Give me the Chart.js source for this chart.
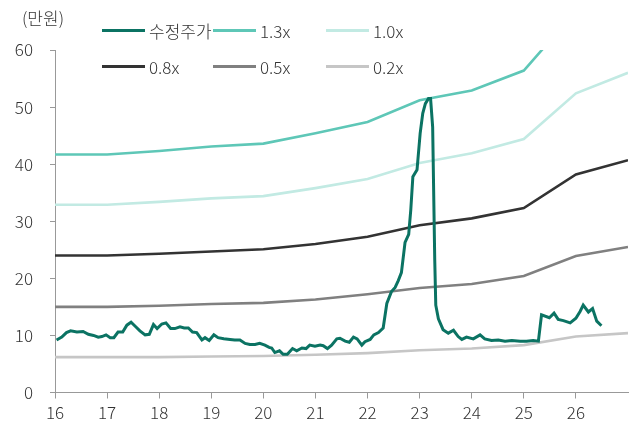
<!DOCTYPE html>
<html>
<head>
<meta charset="utf-8">
<script src="https://cdn.jsdelivr.net/npm/chart.js@4.4.1/dist/chart.umd.min.js"></script>
<style>
  html, body { margin: 0; padding: 0; background: #fff; }
</style>
</head>
<body>
<canvas id="chart" width="634" height="423"></canvas>
<script>
// Band years (x axis, 2-digit years)
const bandYears = [16, 17, 18, 19, 20, 21, 22, 23, 24, 25, 26, 27];

// PBR band lines (만원)
const band13 = [41.7, 41.7, 42.3, 43.1, 43.6, 45.4, 47.4, 51.2, 52.9, 56.4, 66.8, 71.5];
const band10 = [32.9, 32.9, 33.4, 34.0, 34.4, 35.8, 37.4, 40.2, 41.9, 44.4, 52.4, 56.0];
const band08 = [24.0, 24.0, 24.3, 24.7, 25.1, 26.0, 27.3, 29.3, 30.5, 32.3, 38.2, 40.7];
const band05 = [15.0, 15.0, 15.2, 15.5, 15.7, 16.3, 17.2, 18.3, 19.0, 20.4, 23.9, 25.5];
const band02 = [6.2, 6.2, 6.2, 6.3, 6.4, 6.6, 6.9, 7.4, 7.7, 8.3, 9.8, 10.4];

// 수정주가 (adjusted price)
const priceYears = [
  16.03, 16.13, 16.22, 16.30, 16.42, 16.54, 16.64, 16.74, 16.83, 16.90, 16.98,
  17.06, 17.13, 17.21, 17.30, 17.38, 17.46, 17.54, 17.63, 17.73, 17.81, 17.89, 17.96,
  18.05, 18.13, 18.22, 18.30, 18.40, 18.48, 18.56, 18.64, 18.72, 18.82, 18.88, 18.96,
  19.05, 19.13, 19.24, 19.36, 19.45, 19.55, 19.65, 19.74, 19.84, 19.93,
  20.03, 20.11, 20.16, 20.22, 20.31, 20.38, 20.46, 20.56, 20.64, 20.74, 20.82, 20.89, 20.99,
  21.09, 21.15, 21.23, 21.31, 21.41, 21.47, 21.57, 21.65, 21.73, 21.80, 21.89, 21.95,
  22.05, 22.12, 22.21, 22.30, 22.37, 22.46, 22.53, 22.59, 22.65, 22.72, 22.79, 22.83, 22.87, 22.95,
  23.01, 23.06, 23.11, 23.17, 23.21, 23.25, 23.29, 23.31, 23.36, 23.45, 23.55, 23.65, 23.74, 23.81, 23.90,
  24.03, 24.16, 24.25, 24.38, 24.51, 24.64, 24.77, 24.93,
  25.05, 25.18, 25.28, 25.34, 25.49, 25.58, 25.66, 25.76, 25.89,
  26.00, 26.08, 26.14, 26.24, 26.32, 26.40, 26.49
];
const priceValues = [
  9.2, 9.7, 10.5, 10.8, 10.6, 10.7, 10.2, 10.0, 9.7, 9.8, 10.1,
  9.6, 9.6, 10.6, 10.6, 11.8, 12.3, 11.6, 10.8, 10.1, 10.2, 11.9, 11.2,
  12.0, 12.2, 11.2, 11.2, 11.5, 11.3, 11.3, 10.6, 10.5, 9.2, 9.6, 9.1,
  10.1, 9.6, 9.4, 9.3, 9.2, 9.2, 8.6, 8.4, 8.4, 8.6,
  8.3, 7.9, 7.8, 7.0, 7.3, 6.7, 6.7, 7.7, 7.3, 7.8, 7.7, 8.3, 8.1,
  8.3, 8.2, 7.7, 8.3, 9.4, 9.5, 9.0, 8.8, 9.7, 9.4, 8.3, 8.9,
  9.3, 10.1, 10.5, 11.3, 15.6, 17.7, 18.4, 19.6, 21.0, 26.3, 27.7, 32.0, 37.8, 39.0,
  45.4, 48.9, 50.6, 51.5, 51.5, 46.5, 23.2, 15.3, 12.9, 11.0, 10.4, 10.9, 9.8, 9.3, 9.7,
  9.4, 10.1, 9.4, 9.1, 9.2, 9.0, 9.1, 9.0,
  9.0, 9.1, 9.0, 13.6, 13.1, 13.9, 12.8, 12.6, 12.2,
  13.0, 14.2, 15.3, 14.1, 14.7, 12.5, 11.7
];

const labels = ['수정주가', '1.3x', '1.0x', '0.8x', '0.5x', '0.2x'];
const colors = ['#0b7363', '#5ec7b7', '#c2eae3', '#333333', '#808080', '#c6c6c6'];

const FONT = "'Noto Sans CJK KR', 'Noto Sans', sans-serif";

function toPoints(xs, ys) {
  return xs.map((x, i) => ({ x: x, y: ys[i] }));
}

const seriesList = [
  toPoints(priceYears, priceValues),
  toPoints(bandYears, band13),
  toPoints(bandYears, band10),
  toPoints(bandYears, band08),
  toPoints(bandYears, band05),
  toPoints(bandYears, band02)
];

const datasets = seriesList.map((pts, i) => ({
  label: labels[i],
  data: pts,
  borderColor: colors[i],
  backgroundColor: colors[i],
  borderWidth: i === 0 ? 3 : 2.6,
  pointRadius: 0,
  tension: 0,
  fill: false
}));

// legend laid out on a fixed grid + unit label
const legendGrid = {
  id: 'legendGrid',
  afterDraw(chart) {
    const ctx = chart.ctx;
    const colX = [102, 213, 326];
    const rowY = [30.5, 66.5];
    ctx.save();
    ctx.font = '300 17px ' + FONT;
    ctx.textBaseline = 'middle';
    ctx.textAlign = 'left';
    labels.forEach((lab, i) => {
      const x = colX[i % 3];
      const y = rowY[Math.floor(i / 3)];
      ctx.strokeStyle = colors[i];
      ctx.lineWidth = 3;
      ctx.beginPath();
      ctx.moveTo(x, y);
      ctx.lineTo(x + 43, y);
      ctx.stroke();
      ctx.fillStyle = '#333';
      ctx.fillText(lab, x + 47, y + 1);
    });
    ctx.fillText('(만원)', 22, 19);
    ctx.restore();
  }
};

const ctx = document.getElementById('chart').getContext('2d');
new Chart(ctx, {
  type: 'line',
  data: { datasets: datasets },
  options: {
    responsive: false,
    animation: false,
    layout: { padding: { top: 50, right: 6, left: 0, bottom: 0 } },
    plugins: {
      legend: { display: false },
      tooltip: { enabled: false }
    },
    scales: {
      x: {
        type: 'linear',
        min: 16,
        max: 27,
        afterBuildTicks: (scale) => {
          scale.ticks = scale.ticks.filter(t => t.value <= 26);
        },
        afterFit: (scale) => { scale.height = 30.5; },
        ticks: {
          stepSize: 1,
          color: '#333',
          padding: 4,
          maxRotation: 0,
          font: { family: FONT, size: 17, weight: 300 }
        },
        grid: { drawOnChartArea: false, tickLength: 6, color: '#999' },
        border: { color: '#999', width: 1 }
      },
      y: {
        min: 0,
        max: 60,
        afterFit: (scale) => { scale.width = 55; },
        ticks: {
          stepSize: 10,
          color: '#333',
          padding: 17,
          font: { family: FONT, size: 17, weight: 300 }
        },
        grid: { drawOnChartArea: false, tickLength: 5, color: '#999' },
        border: { color: '#999', width: 1 }
      }
    }
  },
  plugins: [legendGrid]
});
</script>
</body>
</html>
